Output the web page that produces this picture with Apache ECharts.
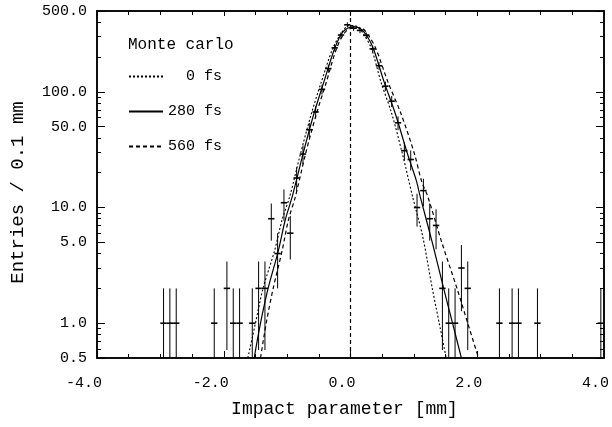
<!DOCTYPE html>
<html><head><meta charset="utf-8">
<script src="https://cdn.jsdelivr.net/npm/echarts@6/dist/echarts.min.js"></script>
<style>html,body{margin:0;padding:0;background:#fff}#c{width:612px;height:427px}</style>
</head><body><div id="c"></div>
<script>
// Histogram (Monte Carlo entries per 0.1 mm bin)
const binCenters = [-2.95,-2.85,-2.75,-2.15,-1.95,-1.85,-1.75,-1.55,-1.45,-1.35,-1.25,-1.15,-1.05,-0.95,-0.85,-0.75,-0.65,-0.55,-0.45,-0.35,-0.25,-0.15,-0.05,0.05,0.15,0.25,0.35,0.45,0.55,0.65,0.75,0.85,0.95,1.05,1.15,1.25,1.35,1.45,1.55,1.65,1.75,1.85,2.35,2.55,2.65,2.95,3.95];
const entries    = [1,1,1,1,2,1,1,1,2,2,8,4,11,6,18,29,47,67,105,159,240,310,380,355,340,308,235,168,112,83,54,31,26,10,14,8,7,2,1,1,3,2,1,1,1,1,1];
const binHalfWidth = 0.05;

// Fit curves
const fit0X   = [-1.62,-1.5,-1.38,-1.2,-1.08,-0.96,-0.79,-0.62,-0.46,-0.28,-0.14,-0.02,0.1,0.2,0.33,0.48,0.65,0.82,0.98,1.14,1.29,1.40,1.51];
const fit0Y   = [0.5,1.0,2,4.2,7.8,12.4,29,64,122,237,325,375,368,320,237,122,65,29,12.4,5.6,2.0,1.0,0.5];
const fit280X = [-1.52,-1.42,-1.30,-1.14,-1.03,-0.92,-0.75,-0.58,-0.42,-0.25,-0.12,0.04,0.15,0.25,0.36,0.53,0.71,0.9,1.04,1.1,1.29,1.47,1.61,1.75];
const fit280Y = [0.5,1.0,2,4.2,7.8,12.4,29,64,122,237,330,367,355,310,237,122,64,29,17,12.4,5,2,1,0.5];
const fit560X = [-1.42,-1.33,-1.22,-1.08,-0.98,-0.87,-0.71,-0.54,-0.38,-0.22,-0.08,0.08,0.2,0.28,0.4,0.59,0.8,1.01,1.12,1.22,1.44,1.68,1.85,2.02];
const fit560Y = [0.5,1.0,2,4.2,7.8,12.4,29,64,122,237,330,362,350,310,237,122,64,29,17,12.4,5,2,1,0.5];

const seriesNames = ['  0 fs','280 fs','560 fs'];
const legendTitle = 'Monte carlo';
const xTickLabels = [-4,-2,0,2,4];
const yTickLabels = [0.5,1,5,10,50,100,500];
const yMinorTicks = [0.6,0.7,0.8,0.9,2,3,4,6,7,8,9,20,30,40,60,70,80,90,200,300,400];
const xName = 'Impact parameter [mm]';
const yName = 'Entries / 0.1 mm';

const FONT = 'Liberation Mono';
const zip = (a,b) => a.map((v,i)=>[v,b[i]]);
const YMIN = 0.5, YMAX = 500;

const histData = binCenters.map((x,i)=>{
  const n = entries[i], e = Math.sqrt(n);
  return [x, n, Math.max(n-e, YMIN), n+e];
});

function renderItem(params, api){
  const x = api.value(0), n = api.value(1), lo = api.value(2), hi = api.value(3);
  const t = api.coord([x, hi]), b = api.coord([x, lo]);
  const l = api.coord([x-binHalfWidth, n]), r = api.coord([x+binHalfWidth, n]);
  return {type:'group', children:[
    {type:'line', shape:{x1:t[0],y1:t[1],x2:b[0],y2:b[1]}, style:{stroke:'#000',lineWidth:1}},
    {type:'line', shape:{x1:l[0],y1:l[1],x2:r[0],y2:r[1]}, style:{stroke:'#000',lineWidth:1.6}}
  ]};
}

const chart = echarts.init(document.getElementById('c'), null, {renderer:'canvas'});
const yBase = {type:'log', logBase:10, min:YMIN, max:YMAX, splitLine:{show:false}};
chart.setOption({
  animation:false,
  backgroundColor:'#fff',
  title:{text:legendTitle, left:123, top:32, textStyle:{fontFamily:FONT, fontSize:16, fontWeight:'normal', color:'#000'}},
  legend:{
    data:seriesNames, orient:'vertical', left:123, top:64, itemWidth:34, itemHeight:14, itemGap:20,
    textStyle:{fontFamily:FONT, fontSize:15, color:'#000'},
    itemStyle:{opacity:0, color:'rgba(0,0,0,0)', borderWidth:0}
  },
  grid:{left:97, right:8, top:11, bottom:69, show:true, borderColor:'#000', borderWidth:1.5, containLabel:false},
  xAxis:[
    {type:'value', min:-4, max:4, interval:2, position:'bottom',
     name:xName, nameLocation:'middle', nameGap:42, nameTextStyle:{fontFamily:FONT, fontSize:18, color:'#000', padding:[0,12,0,0]},
     axisLine:{onZero:false, lineStyle:{color:'#000', width:1.5}},
     axisTick:{inside:true, length:7, lineStyle:{color:'#000'}},
     minorTick:{show:true, splitNumber:4, length:4, lineStyle:{color:'#000'}},
     axisLabel:{formatter:v=>v.toFixed(1), fontFamily:FONT, fontSize:15, color:'#000', margin:18, align:'right', padding:[0,-5,0,0]},
     splitLine:{show:false}},
    {type:'value', min:-4, max:4, interval:2, position:'top',
     axisLine:{onZero:false, lineStyle:{color:'#000', width:1.5}},
     axisTick:{inside:true, length:5, lineStyle:{color:'#000'}},
     minorTick:{show:true, splitNumber:4, length:4, lineStyle:{color:'#000'}},
     axisLabel:{show:false}, splitLine:{show:false}}
  ],
  yAxis:[
    Object.assign({}, yBase, {position:'left',
     name:yName, nameLocation:'middle', nameGap:70, nameTextStyle:{fontFamily:FONT, fontSize:19, color:'#000', padding:[0,16,0,0]},
     axisLine:{show:true, onZero:false, lineStyle:{color:'#000', width:1.5}},
     axisTick:{show:true, inside:true, length:8, customValues:yTickLabels, lineStyle:{color:'#000'}},
     axisLabel:{customValues:yTickLabels, formatter:v=>Number(v).toFixed(1), fontFamily:FONT, fontSize:15, color:'#000', margin:10}}),
    Object.assign({}, yBase, {position:'left',
     axisLine:{show:false, onZero:false},
     axisTick:{show:true, inside:true, length:4, customValues:yMinorTicks, lineStyle:{color:'#000'}},
     axisLabel:{show:false}}),
    Object.assign({}, yBase, {position:'right',
     axisLine:{show:true, onZero:false, lineStyle:{color:'#000', width:1.5}},
     axisTick:{show:true, inside:true, length:8, customValues:yTickLabels, lineStyle:{color:'#000'}},
     axisLabel:{show:false}}),
    Object.assign({}, yBase, {position:'right',
     axisLine:{show:false, onZero:false},
     axisTick:{show:true, inside:true, length:4, customValues:yMinorTicks, lineStyle:{color:'#000'}},
     axisLabel:{show:false}})
  ],
  series:[
    {name:'zero', type:'line', data:[[0,YMIN],[0,YMAX]], symbol:'none', lineStyle:{color:'#000', width:1.2, type:[4,3]}, silent:true},
    {name:seriesNames[0], type:'line', data:zip(fit0X,fit0Y), symbol:'none', smooth:0.3, clip:true, color:'#000', lineStyle:{color:'#000', width:1.1, type:[2,2]}},
    {name:seriesNames[1], type:'line', data:zip(fit280X,fit280Y), symbol:'none', smooth:0.3, clip:true, color:'#000', lineStyle:{color:'#000', width:1.2}},
    {name:seriesNames[2], type:'line', data:zip(fit560X,fit560Y), symbol:'none', smooth:0.3, clip:true, color:'#000', lineStyle:{color:'#000', width:1.2, type:[4,3]}},
    {name:'data', type:'custom', data:histData, renderItem:renderItem, clip:true, z:3}
  ]
});
</script></body></html>
